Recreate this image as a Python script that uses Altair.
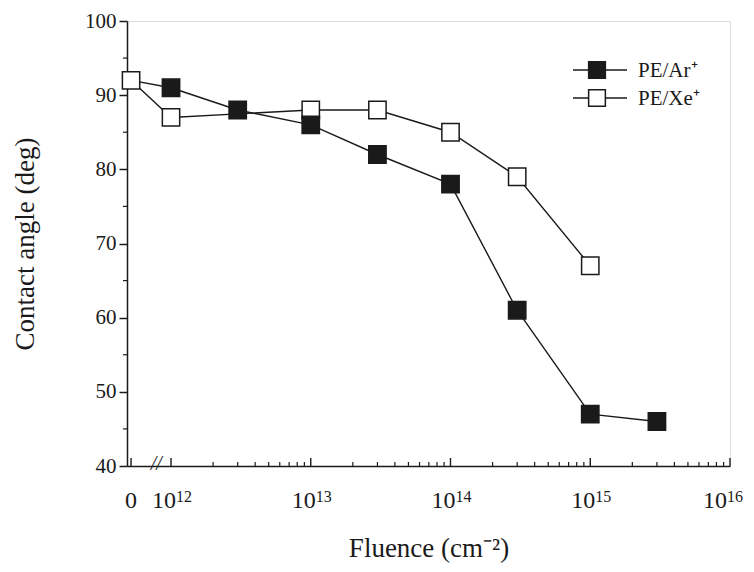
import math
import numpy as np
import pandas as pd
import altair as alt

# ---------------- data ----------------
fluence = [0, 1e12, 3e12, 1e13, 3e13, 1e14, 3e14, 1e15, 3e15]
pe_ar = [92, 91, 88, 86, 82, 78, 61, 47, 46]
pe_xe = [92, 87, None, 88, 88, 85, 79, 67, None]
series_names = ["PE/Ar\u207a", "PE/Xe\u207a"]

y_ticks = [40, 50, 60, 70, 80, 90, 100]
x_decades = [12, 13, 14, 15, 16]
x_label_base = ["10", "10", "10", "10", "10"]
x_label_exp = ["12", "13", "14", "15", "16"]
zero_label = "0"

# broken-axis layout (log10 units)
ZERO_POS = 11.714     # where "0" sits on the broken axis
BREAK_POS = 11.895    # where the // break sits
X_MIN, X_MAX = 11.685, 16.0

FONT = "Liberation Serif"
INK = "#1a1a1a"
W, H = 603, 445


def pos(f):
    return ZERO_POS if f == 0 else math.log10(f)


rows = []
for f, a, x in zip(fluence, pe_ar, pe_xe):
    if a is not None:
        rows.append({"F": f, "pos": pos(f), "val": a, "series": series_names[0]})
    if x is not None:
        rows.append({"F": f, "pos": pos(f), "val": x, "series": series_names[1]})
df = pd.DataFrame(rows)

xs = alt.Scale(domain=[X_MIN, X_MAX], nice=False, zero=False)
ys = alt.Scale(domain=[40, 100], nice=False, zero=False)

x_axis = alt.Axis(
    values=[float(d) for d in x_decades], labels=False, ticks=False, grid=False,
    domainColor=INK, domainWidth=1.5,
    title="Fluence (cm\u207b\u00b2)", titleFont=FONT, titleFontSize=27,
    titleFontWeight="normal", titleColor=INK, titleY=82, titleBaseline="middle",
)
y_axis = alt.Axis(
    values=y_ticks, tickSize=8, tickColor=INK, tickWidth=1.5, grid=False,
    labelFont=FONT, labelFontSize=21, labelColor=INK, labelPadding=3,
    domainColor=INK, domainWidth=1.5,
    title="Contact angle (deg)", titleFont=FONT, titleFontSize=27,
    titleFontWeight="normal", titleColor=INK, titleX=-102, titleBaseline="middle",
)

base = alt.Chart(df)

lines = base.mark_line(color=INK, strokeWidth=1.4).encode(
    x=alt.X("pos:Q", scale=xs, axis=x_axis),
    y=alt.Y("val:Q", scale=ys, axis=y_axis),
    detail="series:N",
    order="pos:Q",
)

xe_pts = base.transform_filter(alt.datum.series == series_names[1]).mark_point(
    shape="square", filled=True, fill="white", stroke=INK, strokeWidth=1.5,
    size=300, opacity=1,
).encode(x=alt.X("pos:Q", scale=xs), y=alt.Y("val:Q", scale=ys))

ar_pts = base.transform_filter(
    (alt.datum.series == series_names[0]) & (alt.datum.F > 0)
).mark_point(
    shape="square", filled=True, fill=INK, stroke=INK, strokeWidth=1.5,
    size=300, opacity=1,
).encode(x=alt.X("pos:Q", scale=xs), y=alt.Y("val:Q", scale=ys))

# ---- x ticks (inward) ----
major_pos = [ZERO_POS] + [float(d) for d in x_decades]
minor_pos = [d + math.log10(k) for d in x_decades[:-1] for k in range(2, 10)]
x_ticks_major = alt.Chart(pd.DataFrame({"pos": major_pos})).mark_rule(
    color=INK, strokeWidth=1.4
).encode(x=alt.X("pos:Q", scale=xs), y=alt.value(H), y2=alt.value(H - 8))
x_ticks_minor = alt.Chart(pd.DataFrame({"pos": minor_pos})).mark_rule(
    color=INK, strokeWidth=1.2
).encode(x=alt.X("pos:Q", scale=xs), y=alt.value(H), y2=alt.value(H - 4))

# ---- x tick labels: 10 with superscript exponent ----
lab_df = pd.DataFrame({"pos": [float(d) for d in x_decades],
                       "base": x_label_base, "exp": x_label_exp})
last = float(x_decades[-1])
x_lab_layers = []
for cond, shift in [(alt.datum.pos < last - 0.01, 5), (alt.datum.pos > last - 0.01, -3)]:
    src = alt.Chart(lab_df).transform_filter(cond)
    x_lab_layers.append(src.mark_text(
        align="right", baseline="alphabetic", font=FONT, fontSize=24, color=INK, dx=shift
    ).encode(x=alt.X("pos:Q", scale=xs), y=alt.value(H + 42), text="base:N"))
    x_lab_layers.append(src.mark_text(
        align="left", baseline="alphabetic", font=FONT, fontSize=16, color=INK, dx=shift
    ).encode(x=alt.X("pos:Q", scale=xs), y=alt.value(H + 36), text="exp:N"))
x_lab_zero = alt.Chart(pd.DataFrame({"pos": [ZERO_POS], "t": [zero_label]})).mark_text(
    align="center", baseline="alphabetic", font=FONT, fontSize=24, color=INK
).encode(x=alt.X("pos:Q", scale=xs), y=alt.value(H + 42), text="t:N")

# ---- y minor ticks (outward) ----
y_minor = pd.DataFrame({"val": [45, 55, 65, 75, 85, 95]})
y_ticks_minor = alt.Chart(y_minor).mark_rule(color=INK, strokeWidth=1.2).encode(
    y=alt.Y("val:Q", scale=ys), x=alt.value(-4), x2=alt.value(0)
)

# ---- axis break ----
brk = alt.Chart(pd.DataFrame({"pos": [BREAK_POS], "val": [40]})).mark_text(
    text="//", font=FONT, fontSize=20, color=INK, dy=-2, fontStyle="italic"
).encode(x=alt.X("pos:Q", scale=xs), y=alt.Y("val:Q", scale=ys))

# ---- legend (drawn inside the plot) ----
legend_layers = []
leg_y = [49, 77]
fills = [INK, "white"]
for name, yy, fc in zip(series_names, leg_y, fills):
    one = alt.Chart(pd.DataFrame({"s": [name]}))
    legend_layers.append(one.mark_rule(color=INK, strokeWidth=1.4).encode(
        x=alt.value(446), x2=alt.value(500), y=alt.value(yy)))
    legend_layers.append(one.mark_point(
        shape="square", filled=True, fill=fc, stroke=INK, strokeWidth=1.5,
        size=280, opacity=1).encode(x=alt.value(470), y=alt.value(yy)))
    legend_layers.append(one.mark_text(
        align="left", baseline="middle", font=FONT, fontSize=21, color=INK
    ).encode(x=alt.value(511), y=alt.value(yy + 1), text="s:N"))

chart = alt.layer(
    lines, x_ticks_major, x_ticks_minor, y_ticks_minor, brk,
    *x_lab_layers, x_lab_zero,
    xe_pts, ar_pts, *legend_layers
).properties(
    width=W, height=H,
    autosize=alt.AutoSizeParams(type="none"),
    padding={"left": 119, "top": 13, "right": 16, "bottom": 98},
).configure_view(
    stroke=INK, strokeWidth=1.5
).configure(background="white")

chart.save("out.html", embed_options={"renderer": "svg", "actions": False})
